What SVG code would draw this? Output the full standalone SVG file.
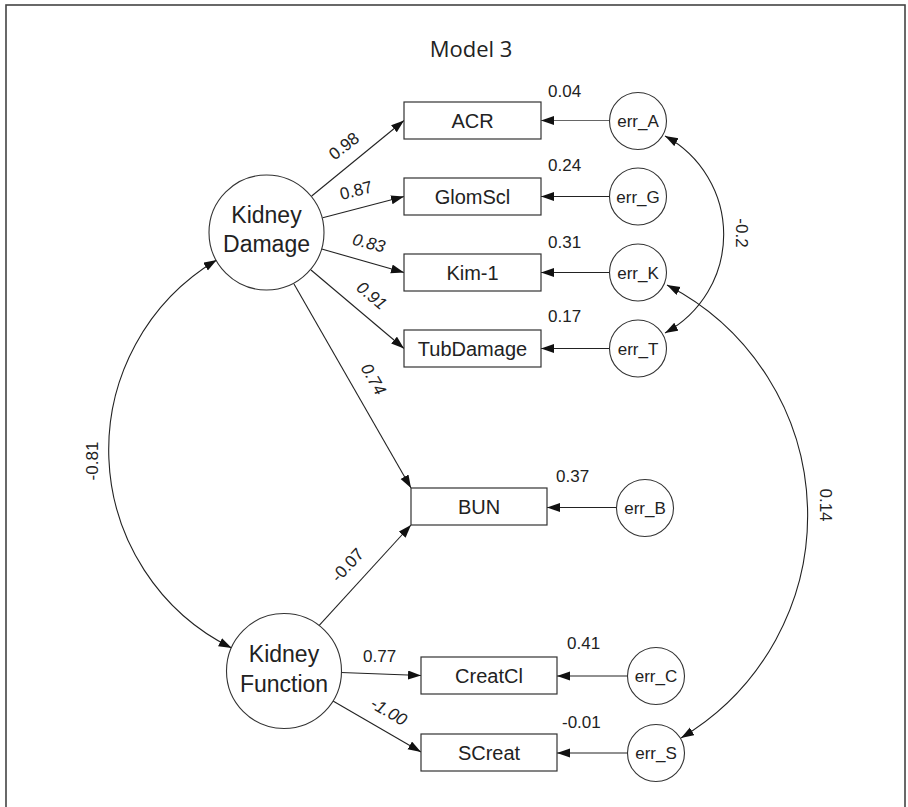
<svg xmlns="http://www.w3.org/2000/svg" width="908" height="807" viewBox="0 0 908 807">
<style>
text{font-family:"Liberation Sans",Arial,sans-serif;fill:#222}
.box{fill:#fff;stroke:#333;stroke-width:1.2}
.lat{fill:#fff;stroke:#333;stroke-width:1.1}
.err{fill:#fff;stroke:#333;stroke-width:1.1}
.lbl{font-size:20px;text-anchor:middle}
.latt{font-size:23px;text-anchor:middle}
.errt{font-size:17px;text-anchor:middle}
.num{font-size:17px}
.numc{font-size:17px;text-anchor:middle}
.it{font-style:italic}
.ln{fill:none;stroke:#222;stroke-width:1.1;marker-end:url(#ah)}
.cv{fill:none;stroke:#222;stroke-width:1.1;marker-start:url(#ah);marker-end:url(#ah)}
</style>
<defs>
<marker id="ah" markerUnits="userSpaceOnUse" markerWidth="14" markerHeight="10" refX="13" refY="4.5" orient="auto-start-reverse"><path d="M0,0 L13,4.5 L0,9 Z" fill="#111"/></marker>
</defs>
<rect x="6" y="5" width="899" height="830" fill="#fff" stroke="#444" stroke-width="1.6"/>
<text x="471" y="57" style="font-family:'Open Sans','Liberation Sans',sans-serif;font-size:22px;text-anchor:middle">Model 3</text>

<g id="connectors">
<path class="ln" d="M311.7,196 L404,120.5"/>
<path class="ln" d="M322.7,217.7 L404,196.5"/>
<path class="ln" d="M321.7,249 L404,272.5"/>
<path class="ln" d="M311,270 L404,348.5"/>
<path class="ln" d="M294,284 L411,488"/>
<path class="ln" d="M319,625.7 L411,525"/>
<path class="ln" d="M341,672.5 L421,675.5"/>
<path class="ln" d="M333,701 L421,752"/>
<path class="ln" d="M609.5,120.5 L541,120.5" style="stroke:#666"/>
<path class="ln" d="M609.5,196.5 L541,196.5"/>
<path class="ln" d="M609.5,272.5 L541,272.5"/>
<path class="ln" d="M609.5,348.5 L541,348.5"/>
<path class="ln" d="M616.5,507.5 L547,507.5"/>
<path class="ln" d="M627.5,676 L557,676"/>
<path class="ln" d="M627.5,753 L557,753"/>
<path class="cv" d="M231.7,648 A221,221 0 0 1 216.7,260"/>
<path class="cv" d="M665,136 A112,112 0 0 1 665,333"/>
<path class="cv" d="M667,285 A259,259 0 0 1 681,738"/>
<text class="numc" transform="translate(347.5,150.5) rotate(-38)">0.98</text>
<text class="numc" transform="translate(357.5,196) rotate(-14)">0.87</text>
<text class="numc it" transform="translate(367.5,248.5) rotate(14)">0.83</text>
<text class="numc it" transform="translate(368,300) rotate(40)">0.91</text>
<text class="numc it" transform="translate(368.5,382) rotate(60)">0.74</text>
<text class="numc" transform="translate(351.7,569) rotate(-47)">-0.07</text>
<text class="num" x="363" y="662">0.77</text>
<text class="numc it" transform="translate(386,716.5) rotate(30)">-1.00</text>
<text class="numc" transform="translate(98,461) rotate(-90)">-0.81</text>
<text class="numc" transform="translate(736,233) rotate(90)">-0.2</text>
<text class="numc" transform="translate(820,505) rotate(90)">0.14</text>
<text class="num" x="548" y="97">0.04</text>
<text class="num" x="548" y="171">0.24</text>
<text class="num" x="548" y="247.5">0.31</text>
<text class="num" x="548" y="322">0.17</text>
<text class="num" x="556" y="482">0.37</text>
<text class="num" x="567" y="649">0.41</text>
<text class="num" x="562" y="728">-0.01</text>
</g>

<g id="KidneyDamage"><circle class="lat" cx="266.5" cy="232.5" r="57.5"/><text class="latt" x="266.5" y="223">Kidney</text><text class="latt" x="266.5" y="252">Damage</text></g>
<g id="KidneyFunction"><circle class="lat" cx="284" cy="671" r="57.5"/><text class="latt" x="284" y="662">Kidney</text><text class="latt" x="284" y="692">Function</text></g>

<g id="ACR"><rect class="box" x="404" y="102" width="137" height="37"/><text class="lbl" x="472.5" y="127.5">ACR</text></g>
<g id="GlomScl"><rect class="box" x="404" y="178" width="137" height="37"/><text class="lbl" x="472.5" y="203.5">GlomScl</text></g>
<g id="Kim1"><rect class="box" x="404" y="254" width="137" height="37"/><text class="lbl" x="472.5" y="279.5">Kim-1</text></g>
<g id="TubDamage"><rect class="box" x="404" y="330" width="137" height="37"/><text class="lbl" x="472.5" y="355.5">TubDamage</text></g>
<g id="BUN"><rect class="box" x="411" y="488" width="136" height="37"/><text class="lbl" x="479" y="513.5">BUN</text></g>
<g id="CreatCl"><rect class="box" x="421" y="657" width="136" height="37"/><text class="lbl" x="489" y="682.5">CreatCl</text></g>
<g id="SCreat"><rect class="box" x="421" y="734" width="136" height="37"/><text class="lbl" x="489" y="759.5">SCreat</text></g>

<g id="err_A"><circle class="err" cx="638" cy="121" r="28.5"/><text class="errt" x="638" y="127">err_A</text></g>
<g id="err_G"><circle class="err" cx="638" cy="196.5" r="28.5"/><text class="errt" x="638" y="202.5">err_G</text></g>
<g id="err_K"><circle class="err" cx="638" cy="272.5" r="28.5"/><text class="errt" x="638" y="278.5">err_K</text></g>
<g id="err_T"><circle class="err" cx="638" cy="348.5" r="28.5"/><text class="errt" x="638" y="354.5">err_T</text></g>
<g id="err_B"><circle class="err" cx="645" cy="508" r="28.5"/><text class="errt" x="645" y="514">err_B</text></g>
<g id="err_C"><circle class="err" cx="656" cy="676" r="28.5"/><text class="errt" x="656" y="682">err_C</text></g>
<g id="err_S"><circle class="err" cx="656" cy="753" r="28.5"/><text class="errt" x="656" y="759">err_S</text></g>
</svg>
